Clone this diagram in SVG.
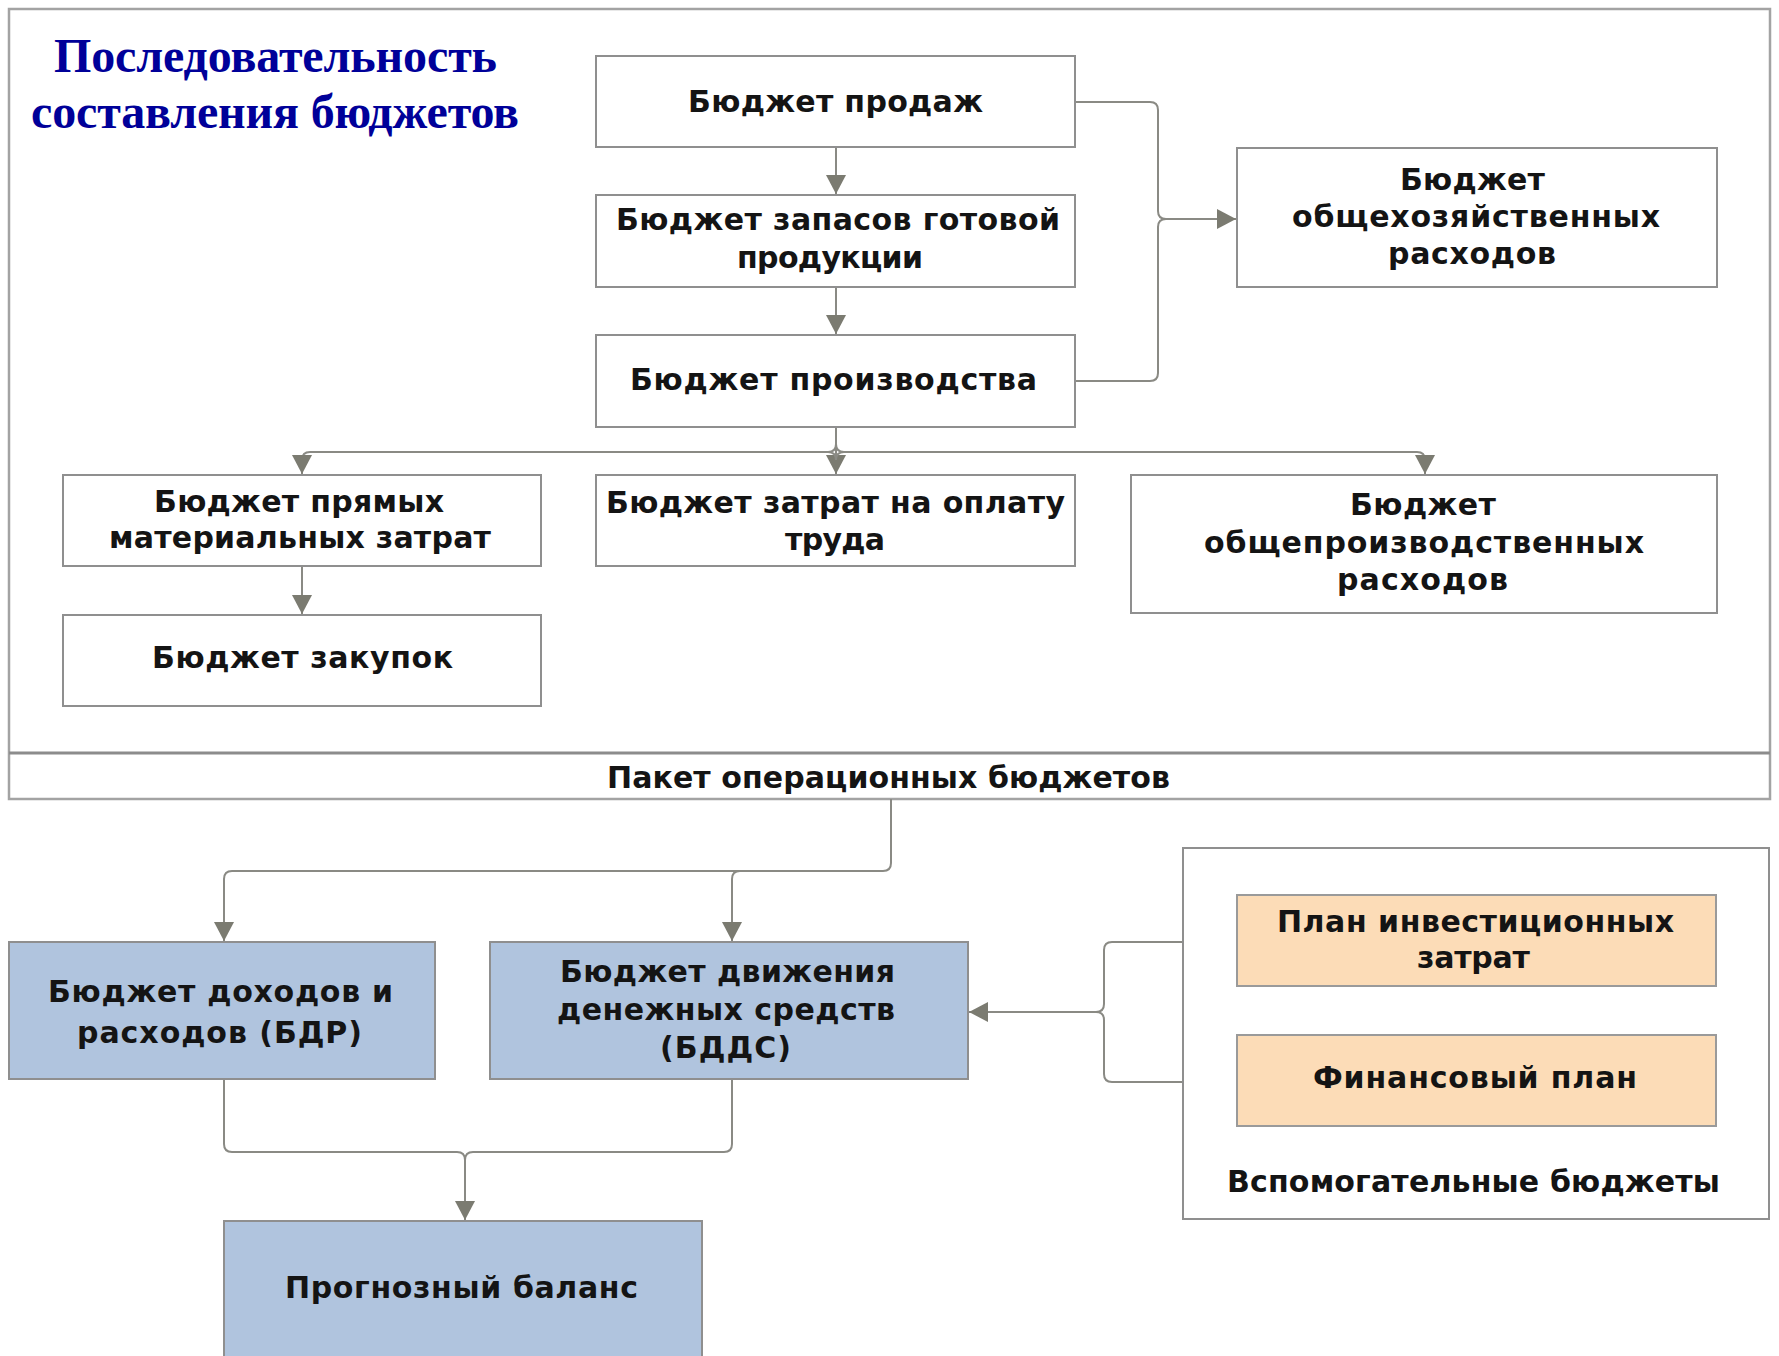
<svg xmlns="http://www.w3.org/2000/svg" width="1779" height="1356" viewBox="0 0 1779 1356">
<defs>
<style>
.box{fill:#ffffff;stroke:#8f8f8f;stroke-width:2}
.blue{fill:#b0c4de;stroke:#8f8f8f;stroke-width:2}
.peach{fill:#fcdcb7;stroke:#9a9a9a;stroke-width:2}
.frame{fill:none;stroke:#a3a3a3;stroke-width:2.5}
.t{font-family:"DejaVu Sans",Verdana,sans-serif;font-weight:bold;font-size:30px;fill:#141414}
.title{font-family:"Liberation Serif","Times New Roman",serif;font-weight:bold;font-size:48px;fill:#000099}
.conn{fill:none;stroke:#8a8a84;stroke-width:2}
</style>
<marker id="ah" markerUnits="userSpaceOnUse" markerWidth="20" markerHeight="20" refX="19" refY="10" orient="auto">
<path d="M0,0 L19,10 L0,20 Z" fill="#7b7b71"/>
</marker>
</defs>
<rect width="1779" height="1356" fill="#ffffff"/>

<g id="frame">
<rect class="frame" x="9" y="9" width="1761" height="790"/>
<line x1="9" y1="753" x2="1770" y2="753" stroke="#8c8c8c" stroke-width="3"/>
</g>

<g id="title">
<text class="title" x="54" y="72" textLength="443" lengthAdjust="spacing">Последовательность</text>
<text class="title" x="31" y="128" textLength="488" lengthAdjust="spacing">составления бюджетов</text>
</g>

<g id="connectors">
<path class="conn" d="M836,147 V194" marker-end="url(#ah)"/>
<path class="conn" d="M836,287 V334" marker-end="url(#ah)"/>
<path class="conn" d="M836,427 V474" marker-end="url(#ah)"/>
<path class="conn" d="M828,452 H310 Q302,452 302,460 V474" marker-end="url(#ah)"/>
<path class="conn" d="M844,452 H1417 Q1425,452 1425,460 V474" marker-end="url(#ah)"/>
<path class="conn" d="M836,444 Q836,452 828,452 M836,444 Q836,452 844,452 M828,452 Q836,452 836,460 M844,452 Q836,452 836,460"/>
<path class="conn" d="M302,566 V614" marker-end="url(#ah)"/>
<path class="conn" d="M1075,102 H1150 Q1158,102 1158,110 V211 Q1158,219 1166,219 H1236" marker-end="url(#ah)"/>
<path class="conn" d="M1075,381 H1150 Q1158,381 1158,373 V227 Q1158,219 1166,219"/>
<path class="conn" d="M891,799 V863 Q891,871 883,871 H232 Q224,871 224,879 V941" marker-end="url(#ah)"/>
<path class="conn" d="M740,871 Q732,871 732,879 V941" marker-end="url(#ah)"/>
<path class="conn" d="M224,1079 V1144 Q224,1152 232,1152 H457 Q465,1152 465,1160 V1220" marker-end="url(#ah)"/>
<path class="conn" d="M732,1079 V1144 Q732,1152 724,1152 H473 Q465,1152 465,1160"/>
<path class="conn" d="M1237,942 H1112 Q1104,942 1104,950 V1004 Q1104,1012 1096,1012 H969" marker-end="url(#ah)"/>
<path class="conn" d="M1237,1082 H1112 Q1104,1082 1104,1074 V1020 Q1104,1012 1096,1012"/>
</g>

<g id="n-prodazh">
<rect class="box" x="596" y="56" width="479" height="91"/>
<text class="t" x="688" y="112" textLength="295" lengthAdjust="spacing">Бюджет продаж</text>
</g>
<g id="n-zapasy">
<rect class="box" x="596" y="195" width="479" height="92"/>
<text class="t" x="616" y="230" textLength="444" lengthAdjust="spacing">Бюджет запасов готовой</text>
<text class="t" x="737" y="268" textLength="186" lengthAdjust="spacing">продукции</text>
</g>
<g id="n-proizv">
<rect class="box" x="596" y="335" width="479" height="92"/>
<text class="t" x="630" y="390" textLength="407" lengthAdjust="spacing">Бюджет производства</text>
</g>
<g id="n-obshhoz">
<rect class="box" x="1237" y="148" width="480" height="139"/>
<text class="t" x="1400" y="190" textLength="145" lengthAdjust="spacing">Бюджет</text>
<text class="t" x="1292" y="227" textLength="368" lengthAdjust="spacing">общехозяйственных</text>
<text class="t" x="1388" y="264" textLength="168" lengthAdjust="spacing">расходов</text>
</g>
<g id="n-pryamye">
<rect class="box" x="63" y="475" width="478" height="91"/>
<text class="t" x="154" y="512" textLength="290" lengthAdjust="spacing">Бюджет прямых</text>
<text class="t" x="109" y="548" textLength="382" lengthAdjust="spacing">материальных затрат</text>
</g>
<g id="n-trud">
<rect class="box" x="596" y="475" width="479" height="91"/>
<text class="t" x="606" y="513" textLength="459" lengthAdjust="spacing">Бюджет затрат на оплату</text>
<text class="t" x="785" y="550" textLength="100" lengthAdjust="spacing">труда</text>
</g>
<g id="n-obshpr">
<rect class="box" x="1131" y="475" width="586" height="138"/>
<text class="t" x="1350" y="515" textLength="146" lengthAdjust="spacing">Бюджет</text>
<text class="t" x="1204" y="553" textLength="440" lengthAdjust="spacing">общепроизводственных</text>
<text class="t" x="1337" y="590" textLength="171" lengthAdjust="spacing">расходов</text>
</g>
<g id="n-zakupki">
<rect class="box" x="63" y="615" width="478" height="91"/>
<text class="t" x="152" y="668" textLength="301" lengthAdjust="spacing">Бюджет закупок</text>
</g>
<g id="n-paket">
<text class="t" x="607" y="788" textLength="563" lengthAdjust="spacing">Пакет операционных бюджетов</text>
</g>
<g id="n-bdr">
<rect class="blue" x="9" y="942" width="426" height="137"/>
<text class="t" x="48" y="1002" textLength="345" lengthAdjust="spacing">Бюджет доходов и</text>
<text class="t" x="77" y="1043" textLength="285" lengthAdjust="spacing">расходов (БДР)</text>
</g>
<g id="n-bdds">
<rect class="blue" x="490" y="942" width="478" height="137"/>
<text class="t" x="560" y="982" textLength="335" lengthAdjust="spacing">Бюджет движения</text>
<text class="t" x="557" y="1020" textLength="338" lengthAdjust="spacing">денежных средств</text>
<text class="t" x="660" y="1058" textLength="131" lengthAdjust="spacing">(БДДС)</text>
</g>
<g id="n-balans">
<rect class="blue" x="224" y="1221" width="478" height="145"/>
<text class="t" x="285" y="1298" textLength="353" lengthAdjust="spacing">Прогнозный баланс</text>
</g>
<g id="n-vspom">
<rect class="box" x="1183" y="848" width="586" height="371"/>
<text class="t" x="1227" y="1192" textLength="493" lengthAdjust="spacing">Вспомогательные бюджеты</text>
</g>
<g id="n-invest">
<rect class="peach" x="1237" y="895" width="479" height="91"/>
<text class="t" x="1277" y="932" textLength="397" lengthAdjust="spacing">План инвестиционных</text>
<text class="t" x="1417" y="968" textLength="113" lengthAdjust="spacing">затрат</text>
</g>
<g id="n-fin">
<rect class="peach" x="1237" y="1035" width="479" height="91"/>
<text class="t" x="1313" y="1088" textLength="324" lengthAdjust="spacing">Финансовый план</text>
</g>
</svg>
